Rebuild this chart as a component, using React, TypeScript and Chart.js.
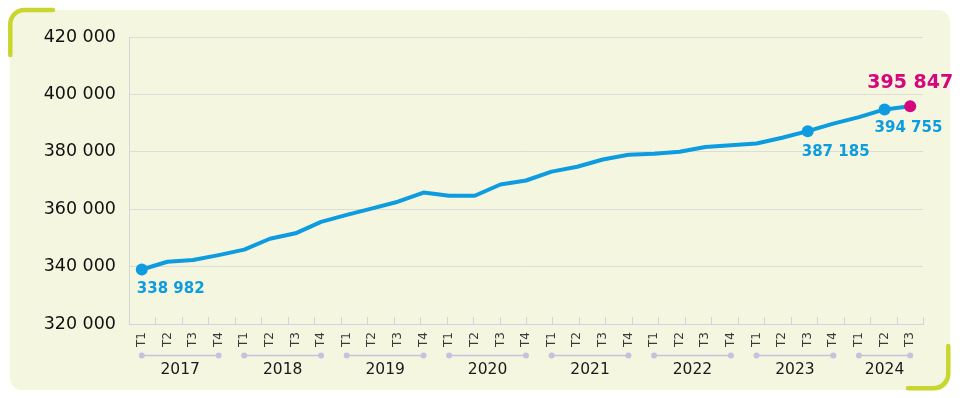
import React, { useEffect, useRef } from 'react';
import { Chart, registerables } from 'chart.js';

Chart.register(...registerables);

// ---- Data ----
const years = ['2017', '2018', '2019', '2020', '2021', '2022', '2023', '2024'];
const quartersPerYear = [4, 4, 4, 4, 4, 4, 4, 3];
const quarterNames = ['T1', 'T2', 'T3', 'T4'];
const employment = [
  338982, 341700, 342300, 344000,
  345900, 349700, 351600, 355600,
  358000, 360300, 362600, 365800,
  364700, 364700, 368600, 370000,
  373100, 374800, 377300, 379000,
  379300, 380000, 381700, 382300,
  382900, 384900, 387185, 389800,
  392100, 394755, 395847,
];
const highlighted = [0, 26, 29, 30];
const yMin = 320000;
const yMax = 420000;
const yStep = 20000;

// derived categories
const categories: string[] = [];
const categoryYear: number[] = [];
years.forEach((_, yi) => {
  for (let q = 0; q < quartersPerYear[yi]; q++) {
    categories.push(quarterNames[q]);
    categoryYear.push(yi);
  }
});

const fmt = (n: number) => String(n).replace(/\B(?=(\d{3})+(?!\d))/g, ' ');

const FONT = "'DejaVu Sans', sans-serif";
const BLUE = '#0e9ce0';
const PINK = '#d6067c';

const labelStyles = [
  { color: BLUE, size: 15, align: 'left', dx: -5, dy: 20 },
  { color: BLUE, size: 15, align: 'left', dx: -6, dy: 21 },
  { color: BLUE, size: 15, align: 'left', dx: -10, dy: 19 },
  { color: PINK, size: 19, align: 'center', dx: 0, dy: -23 },
];

const decorPlugin = {
  id: 'decor',
  afterDraw(chart: any) {
    const ctx = chart.ctx as CanvasRenderingContext2D;
    const xs = chart.scales.x;
    const area = chart.chartArea;
    const n = categories.length;
    ctx.save();
    // small inner tick marks along the x axis
    ctx.strokeStyle = '#d4d1e3';
    ctx.lineWidth = 1;
    for (let i = 0; i < n; i++) {
      const x = Math.round(area.left + (i * (area.right - area.left)) / (n - 1)) + 0.5;
      ctx.beginPath();
      ctx.moveTo(x, area.bottom);
      ctx.lineTo(x, area.bottom - 7);
      ctx.stroke();
    }
    // year groups
    const lineY = area.bottom + 31.5;
    const textY = area.bottom + 46;
    years.forEach((yr, yi) => {
      const idx = categoryYear.map((v, i) => (v === yi ? i : -1)).filter((i) => i >= 0);
      const x1 = xs.getPixelForValue(idx[0]);
      const x2 = xs.getPixelForValue(idx[idx.length - 1]);
      ctx.strokeStyle = '#c6c2dd';
      ctx.fillStyle = '#c6c2dd';
      ctx.lineWidth = 1.5;
      ctx.beginPath();
      ctx.moveTo(x1, lineY);
      ctx.lineTo(x2, lineY);
      ctx.stroke();
      [x1, x2].forEach((x) => {
        ctx.beginPath();
        ctx.arc(x, lineY, 3, 0, Math.PI * 2);
        ctx.fill();
      });
      ctx.fillStyle = '#1a1a1a';
      ctx.font = `15.5px ${FONT}`;
      ctx.textAlign = 'center';
      ctx.textBaseline = 'middle';
      ctx.fillText(yr, (x1 + x2) / 2, textY);
    });
    // data labels
    const meta = chart.getDatasetMeta(0);
    highlighted.forEach((i, k) => {
      const pt = meta.data[i];
      const st = labelStyles[k];
      ctx.fillStyle = st.color;
      ctx.font = `bold ${st.size}px ${FONT}`;
      ctx.textAlign = st.align as CanvasTextAlign;
      ctx.textBaseline = 'middle';
      ctx.fillText(fmt(employment[i]), pt.x + st.dx, pt.y + st.dy);
    });
    ctx.restore();
  },
};

export default function App() {
  const ref = useRef<HTMLCanvasElement>(null);

  useEffect(() => {
    document.body.style.margin = '0';
    const canvas = ref.current;
    if (!canvas) return;
    const radii = employment.map((_, i) => (highlighted.includes(i) ? 6 : 0));
    const colors = employment.map((_, i) => (i === employment.length - 1 ? PINK : BLUE));
    const chart = new Chart(canvas, {
      type: 'line',
      data: {
        labels: categories,
        datasets: [
          {
            data: employment,
            borderColor: BLUE,
            borderWidth: 4,
            borderJoinStyle: 'round',
            borderCapStyle: 'round',
            tension: 0,
            pointRadius: radii,
            pointHoverRadius: radii,
            pointBackgroundColor: colors,
            pointBorderColor: colors,
            pointBorderWidth: 0,
            fill: false,
          },
        ],
      },
      plugins: [decorPlugin],
      options: {
        responsive: false,
        animation: false,
        events: [],
        layout: { padding: { left: 0, right: 37, top: 37, bottom: 0 } },
        plugins: { legend: { display: false }, tooltip: { enabled: false } },
        scales: {
          x: {
            type: 'category',
            offset: true,
            grid: { display: false },
            border: { display: true, color: '#d4d1e3', width: 1 },
            ticks: {
              autoSkip: false,
              maxRotation: 90,
              minRotation: 90,
              padding: 0,
              color: '#3a3a3a',
              font: { family: FONT, size: 12 },
            },
            afterFit: (s: any) => {
              s.height = 74;
            },
          },
          y: {
            min: yMin,
            max: yMax,
            grid: { color: '#dedcd6', drawTicks: false, lineWidth: 1 },
            border: { display: true, color: '#d6d6d6', width: 1 },
            ticks: {
              stepSize: yStep,
              padding: 13,
              color: '#111111',
              font: { family: FONT, size: 17.5 },
              callback: (v: any) => fmt(Number(v)),
            },
            afterFit: (s: any) => {
              s.width = 129;
            },
          },
        },
      },
    });
    return () => chart.destroy();
  }, []);

  return (
    <div style={{ position: 'relative', width: 960, height: 398, background: '#ffffff', overflow: 'hidden' }}>
      <div
        style={{
          position: 'absolute',
          left: 10,
          top: 10,
          width: 940,
          height: 380,
          background: '#f4f6df',
          borderRadius: 12,
        }}
      />
      <svg width={960} height={398} style={{ position: 'absolute', left: 0, top: 0 }}>
        <path
          d="M10.3 55 L10.3 24 A14 14 0 0 1 24.3 10 L53 10"
          fill="none"
          stroke="#c8d62f"
          strokeWidth={4.5}
          strokeLinecap="round"
        />
        <path
          d="M948.3 346 L948.3 373 A15 15 0 0 1 933.3 388.3 L908 388.3"
          fill="none"
          stroke="#c8d62f"
          strokeWidth={4.5}
          strokeLinecap="round"
        />
      </svg>
      <canvas ref={ref} width={960} height={398} style={{ position: 'absolute', left: 0, top: 0 }} />
    </div>
  );
}
